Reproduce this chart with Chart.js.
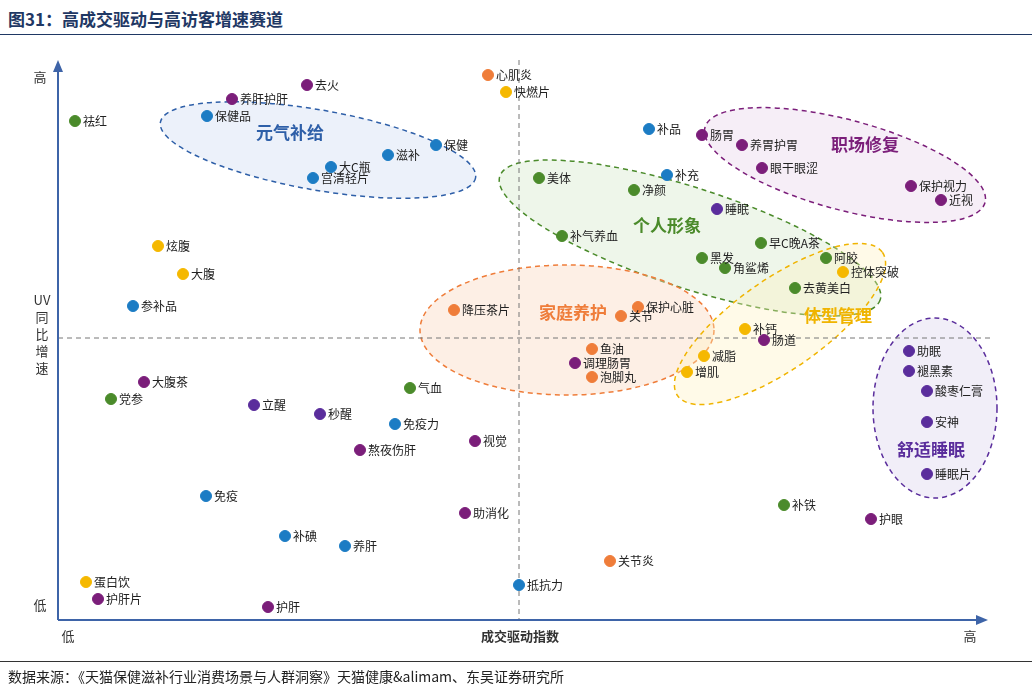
<!DOCTYPE html>
<html><head><meta charset="utf-8">
<script src="https://cdn.jsdelivr.net/npm/chart.js@4"></script>
<style>
body{margin:0;width:1032px;height:693px;position:relative;background:#fff;font-family:"Noto Sans CJK SC",sans-serif;overflow:hidden}
#title{position:absolute;left:8px;top:6px;font-size:17px;font-weight:bold;color:#1f3864}
#tline{position:absolute;left:0;top:34px;width:1032px;border-top:1.5px solid #1f3864}
#bline{position:absolute;left:0;top:661px;width:1032px;border-top:1px solid #333}
#src{position:absolute;left:8px;top:666px;font-size:14px;color:#222}
canvas{position:absolute;left:0;top:0}
</style></head><body>
<div id="title">图31：高成交驱动与高访客增速赛道</div>
<div id="tline"></div>
<canvas id="c" width="1032" height="693"></canvas>
<div id="bline"></div>
<div id="src">数据来源：《天猫保健滋补行业消费场景与人群洞察》天猫健康&amp;alimam、东吴证券研究所</div>
<script>
// x: 成交驱动指数, y: UV同比增速 (arbitrary units)
const labels = ["祛红","养肝护肝","去火","保健品","大C瓶","宫清轻片","滋补","保健","心肌炎","快燃片","补品","肠胃","养胃护胃","眼干眼涩","保护视力","近视","补充","美体","净颜","睡眠","补气养血","早C晚A茶","黑发","阿胶","角鲨烯","控体突破","去黄美白","炫腹","大腹","参补品","降压茶片","保护心脏","关节","补钙","肠道","鱼油","调理肠胃","泡脚丸","减脂","增肌","助眠","褪黑素","酸枣仁膏","安神","睡眠片","大腹茶","党参","气血","立醒","秒醒","免疫力","熬夜伤肝","视觉","免疫","补铁","护眼","助消化","补碘","养肝","关节炎","蛋白饮","抵抗力","护肝片","护肝"];
const xs = [75,232,307,207,331,313,388,436,488,506,649,702,742,762,911,941,667,539,634,717,562,761,702,826,725,843,795,158,183,133,454,638,621,745,764,592,575,592,704,687,909,909,927,927,927,144,111,410,254,320,395,360,475,206,784,871,465,285,345,610,86,519,98,268];
const ys = [499,521,535,504,453,442,465,475,545,528,491,485,475,452,434,420,445,442,430,411,384,377,362,362,352,348,332,374,346,314,310,313,304,291,280,271,257,243,264,248,269,249,229,198,146,238,221,232,215,206,196,170,179,124,115,101,107,84,74,59,38,35,21,13];
const groups = ["g","m","m","b","b","b","b","b","o","y",
  "b","m","m","m","m","m","b","g","g","i",
  "g","g","g","g","g","y","g","y","y","b",
  "o","o","o","y","m","o","m","o","y","y",
  "i","i","i","i","i","m","g","g","i","i",
  "b","m","m","b","g","m","m","b","b","o",
  "y","b","m","m"];
const colorOf = {g:"#4b8b2b",m:"#7b1e7a",b:"#1c7cc4",o:"#ef7d3a",y:"#f5b800",i:"#5a2d9c"};
const pointColors = groups.map(k => colorOf[k]);

// scenario areas: centre x, centre y, then label
const areaNames = ["元气补给","职场修复","个人形象","家庭养护","体型管理","舒适睡眠"];
const areaX = [318,845,690,567,780,935];
const areaY = [470,455,382,290,296,212];
const areaColor = ["#2e5fa8","#7b1e7a","#4b8b2b","#ef7d3a","#f0b400","#5a2d9c"];
const areaFill = ["rgba(200,215,240,0.35)","rgba(225,200,230,0.3)","rgba(205,230,195,0.35)","rgba(250,215,190,0.4)","rgba(255,240,190,0.35)","rgba(215,205,235,0.35)"];
const areaShape = [[160,40,10],[145,45,15],[200,50,18],[147,65,0],[125,45,-35],[62,90,0]];
const areaLabelX = [290,865,667,573,838,931];
const areaLabelY = [487,475,394,307,304,170];

const overlay = {
  id: "overlay",
  beforeDatasetsDraw(chart) {
    const {ctx, scales:{x, y}} = chart;
    ctx.save();
    areaNames.forEach((n, i) => {
      const [rx, ry, rot] = areaShape[i];
      ctx.beginPath();
      ctx.ellipse(x.getPixelForValue(areaX[i]), y.getPixelForValue(areaY[i]), rx, ry, rot*Math.PI/180, 0, Math.PI*2);
      ctx.fillStyle = areaFill[i]; ctx.fill();
      ctx.setLineDash([5,4]); ctx.lineWidth = 1.5; ctx.strokeStyle = areaColor[i]; ctx.stroke();
    });
    ctx.setLineDash([5,4]); ctx.lineWidth = 1; ctx.strokeStyle = "#777";
    const mx = x.getPixelForValue(519), my = y.getPixelForValue(282);
    ctx.beginPath(); ctx.moveTo(mx, y.getPixelForValue(560)); ctx.lineTo(mx, y.getPixelForValue(0));
    ctx.moveTo(x.getPixelForValue(58), my); ctx.lineTo(x.getPixelForValue(990), my); ctx.stroke();
    ctx.setLineDash([]);
    // axes with arrows
    const ox = x.getPixelForValue(58), oy = y.getPixelForValue(0);
    const tx = y.getPixelForValue(560), rxp = x.getPixelForValue(988);
    ctx.strokeStyle = ctx.fillStyle = "#3e64a8"; ctx.lineWidth = 2;
    ctx.beginPath(); ctx.moveTo(ox, oy); ctx.lineTo(ox, tx+6); ctx.moveTo(ox, oy); ctx.lineTo(rxp-6, oy); ctx.stroke();
    ctx.beginPath(); ctx.moveTo(ox, tx); ctx.lineTo(ox-5, tx+12); ctx.lineTo(ox+5, tx+12); ctx.fill();
    ctx.beginPath(); ctx.moveTo(rxp, oy); ctx.lineTo(rxp-12, oy-5); ctx.lineTo(rxp-12, oy+5); ctx.fill();
    ctx.fillStyle = "#333"; ctx.font = "13px 'Noto Sans CJK SC'"; ctx.textAlign = "center"; ctx.textBaseline = "middle";
    ctx.fillText("高", 40, 77); ctx.fillText("低", 40, 605);
    ["UV","同","比","增","速"].forEach((c, k) => ctx.fillText(c, 42, 300 + k*17));
    ctx.fillText("低", 68, 636); ctx.fillText("高", 970, 636);
    ctx.font = "bold 13px 'Noto Sans CJK SC'"; ctx.fillText("成交驱动指数", 520, 636);
    ctx.font = "bold 17px 'Noto Sans CJK SC'";
    areaNames.forEach((n, i) => {
      ctx.fillStyle = areaColor[i];
      ctx.fillText(n, x.getPixelForValue(areaLabelX[i]), y.getPixelForValue(areaLabelY[i]));
    });
    ctx.restore();
  },
  afterDatasetsDraw(chart) {
    const {ctx} = chart;
    const meta = chart.getDatasetMeta(0);
    ctx.save();
    ctx.font = "12px 'Noto Sans CJK SC'"; ctx.fillStyle = "#222"; ctx.textBaseline = "middle";
    meta.data.forEach((p, i) => ctx.fillText(labels[i], p.x + 8, p.y));
    ctx.restore();
  }
};

new Chart(document.getElementById("c"), {
  type: "scatter",
  data: { datasets: [{
    data: xs.map((v, i) => ({x: v, y: ys[i]})),
    backgroundColor: pointColors, borderColor: pointColors,
    pointRadius: 5.5, pointHoverRadius: 5.5
  }]},
  options: {
    responsive: false, animation: false,
    layout: { padding: {left: 58, right: 42, top: 60, bottom: 73} },
    plugins: { legend: {display: false}, tooltip: {enabled: false} },
    scales: {
      x: { type: "linear", min: 58, max: 990, display: false },
      y: { type: "linear", min: 0, max: 560, display: false }
    }
  },
  plugins: [overlay]
});
</script>
</body></html>
